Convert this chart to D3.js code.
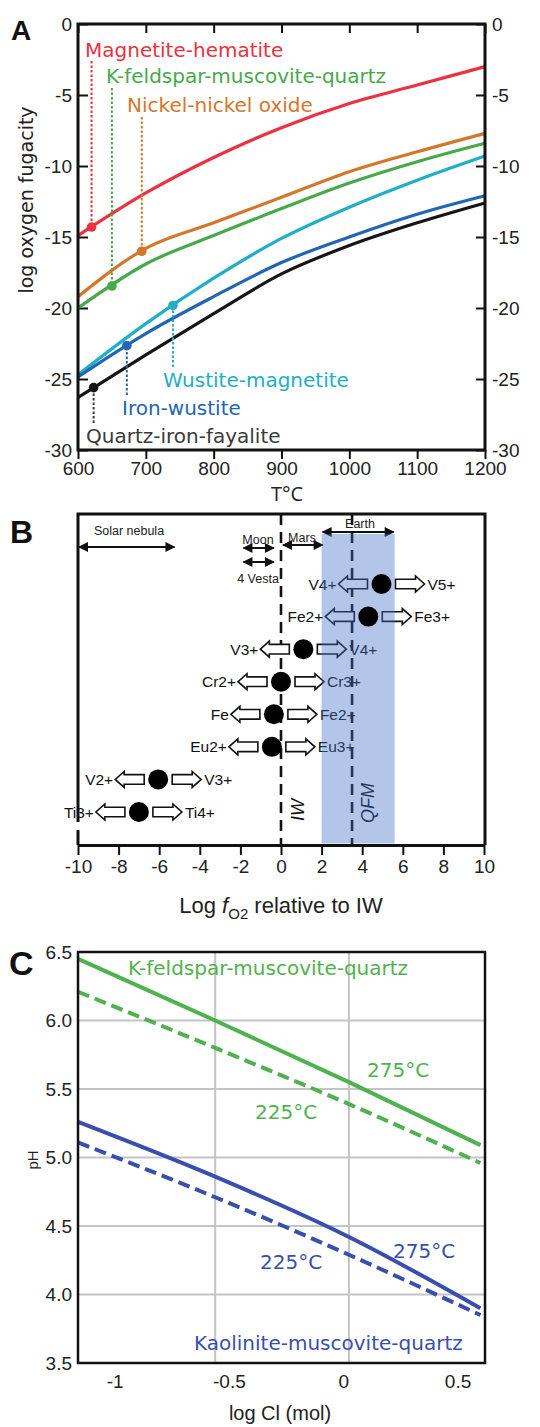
<!DOCTYPE html>
<html>
<head>
<meta charset="utf-8">
<script src="https://cdn.jsdelivr.net/npm/d3@7"></script>
<style>
  body { margin: 0; background: #fff; }
  svg text { font-family: "Liberation Sans", Arial, sans-serif; }
</style>
</head>
<body>
<div id="chart"></div>
<script>
// ---------- panel A : buffer curves, log fO2 vs T
var tempsA = [600, 700, 800, 900, 1000, 1100, 1200];
var mhVals  = [-14.9, -11.9, -9.4, -7.3, -5.6, -4.3, -3.0];
var kmqVals = [-20.0, -16.9, -14.9, -13.0, -11.2, -9.7, -8.4];
var nnoVals = [-19.2, -15.8, -14.0, -12.2, -10.4, -9.0, -7.7];
var wmVals  = [-24.7, -21.1, -17.9, -15.1, -12.9, -11.0, -9.3];
var iwVals  = [-24.85, -21.8, -19.2, -16.8, -15.0, -13.4, -12.1];
var qifVals = [-26.3, -23.3, -20.4, -17.6, -15.6, -14.0, -12.6];
var bufferNames = ["Magnetite-hematite", "K-feldspar-muscovite-quartz", "Nickel-nickel oxide",
                   "Wustite-magnetite", "Iron-wustite", "Quartz-iron-fayalite"];
var bufferMarkT = [620, 650, 694, 740, 672, 623];
var tickTA = [600, 700, 800, 900, 1000, 1100, 1200];
var tickFA = [0, -5, -10, -15, -20, -25, -30];

// ---------- panel B : redox pairs relative to IW
var tickB = [-10, -8, -6, -4, -2, 0, 2, 4, 6, 8, 10];
var pairReduced  = ["V4+", "Fe2+", "V3+", "Cr2+", "Fe", "Eu2+", "V2+", "Ti3+"];
var pairOxidized = ["V5+", "Fe3+", "V4+", "Cr3+", "Fe2+", "Eu3+", "V3+", "Ti4+"];
var pairDIW      = [4.95, 4.3, 1.1, 0, -0.35, -0.45, -6.05, -7.0];
var bodyNames = ["Solar nebula", "Moon", "4 Vesta", "Mars", "Earth"];
var bodyFrom  = [-10, -1.9, -1.9, 0.05, 2.0];
var bodyTo    = [-5.2, -0.3, -0.3, 2.1, 5.6];
var iwRef = 0, qfmRef = 3.5;
var earthRange = [2.0, 5.6];

// ---------- panel C : pH vs log Cl
var logCl  = [-1.16, -0.56, 0.025, 0.6];
var kfs275 = [6.45, 6.00, 5.55, 5.09];
var kfs225 = [6.21, 5.80, 5.39, 4.96];
var kao275 = [5.26, 4.86, 4.42, 3.90];
var kao225 = [5.11, 4.71, 4.29, 3.85];
var tickClC = [-1, -0.5, 0, 0.5];
var gridClC = [-0.56, 0.025];
var tickPhC = [3.5, 4.0, 4.5, 5.0, 5.5, 6.0, 6.5];

var svg = d3.select("#chart").append("svg")
    .attr("width", 540)
    .attr("height", 1427);

function panelLetter(txt, x, y, size) {
  svg.append("text").attr("x", x).attr("y", y).text(txt)
    .style("font-weight", "bold").style("font-size", size + "px").attr("fill", "#111");
}
var plain = function (d) { return String(d); };  // keep ascii hyphen, no thousands comma

// ================= PANEL A =================
(function () {
  var left = 78, right = 485, top = 24, bottom = 450;
  var x = d3.scaleLinear().domain([600, 1200]).range([left, right]);
  var y = d3.scaleLinear().domain([-30, 0]).range([bottom, top]);
  var g = svg.append("g");

  function styleAxis(sel) {
    sel.select(".domain").remove();
    sel.selectAll(".tick line").attr("stroke", "#111").attr("stroke-width", 2);
    sel.selectAll(".tick text").style("font-size", "19px").attr("fill", "#222");
  }
  g.append("g").attr("transform", "translate(" + left + ",0)")
    .call(d3.axisLeft(y).tickValues(tickFA).tickFormat(plain).tickSize(-10).tickPadding(6)).call(styleAxis);
  g.append("g").attr("transform", "translate(" + right + ",0)")
    .call(d3.axisRight(y).tickValues(tickFA).tickFormat(plain).tickSize(-9).tickPadding(7)).call(styleAxis);
  g.append("g").attr("transform", "translate(0," + top + ")")
    .call(d3.axisTop(x).tickValues(tickTA).tickSize(-9).tickFormat("")).call(styleAxis);
  // bottom ticks point outward
  g.append("g").attr("transform", "translate(0," + bottom + ")")
    .call(d3.axisBottom(x).tickValues(tickTA).tickFormat(plain).tickSize(9).tickPadding(3)).call(styleAxis);

  var series = [mhVals, kmqVals, nnoVals, wmVals, iwVals, qifVals];
  var colors = ["#ec3140", "#48a94b", "#d5772b", "#21afc7", "#2266b3", "#161616"];
  var labelColors = ["#ec3140", "#48a94b", "#d5772b", "#21afc7", "#2266b3", "#3a3a3a"];
  // label layout: x, baseline, leader end (px)
  var labelX    = [85, 106, 127, 163, 122, 86];
  var labelY    = [57, 83, 112, 387, 415, 443];
  var leaderEnd = [61, 88, 117, 367, 395, 423];

  var line = d3.line().x(function (d, i) { return x(tempsA[i]); }).y(function (d) { return y(d); })
    .curve(d3.curveMonotoneX);

  function valueAt(vals, t) {
    var i = Math.min(d3.bisectRight(tempsA, t), tempsA.length - 1);
    var t0 = tempsA[i - 1], t1 = tempsA[i];
    return vals[i - 1] + (vals[i] - vals[i - 1]) * (t - t0) / (t1 - t0);
  }

  series.forEach(function (vals, k) {
    g.append("path").datum(vals).attr("d", line)
      .attr("fill", "none").attr("stroke", colors[k]).attr("stroke-width", 3.2)
      .attr("stroke-linejoin", "round");
  });

  series.forEach(function (vals, k) {
    var t = bufferMarkT[k];
    var py = y(valueAt(vals, t));
    g.append("line")
      .attr("x1", x(t)).attr("x2", x(t))
      .attr("y1", leaderEnd[k]).attr("y2", py)
      .attr("stroke", labelColors[k]).attr("stroke-width", 2)
      .attr("stroke-dasharray", "2.5,2");
    g.append("circle").attr("cx", x(t)).attr("cy", py).attr("r", 4.8).attr("fill", colors[k]);
    g.append("text").attr("x", labelX[k]).attr("y", labelY[k]).text(bufferNames[k])
      .style("font-family", '"DejaVu Sans", sans-serif').style("font-size", "20px")
      .attr("fill", labelColors[k]);
  });

  g.append("rect").attr("x", left).attr("y", top).attr("width", right - left).attr("height", bottom - top)
    .attr("fill", "none").attr("stroke", "#111").attr("stroke-width", 3);

  g.append("text").attr("transform", "translate(26," + 200 + ") rotate(-90)")
    .attr("text-anchor", "middle").attr("dy", "0.35em")
    .style("font-family", '"DejaVu Sans", sans-serif').style("font-size", "19px").attr("fill", "#222")
    .text("log oxygen fugacity");
  g.append("text").attr("x", 287).attr("y", 501).attr("text-anchor", "middle")
    .style("font-family", '"Open Sans", sans-serif').style("font-size", "20px").attr("fill", "#222")
    .text("T°C");
  panelLetter("A", 11, 40, 28);
})();

// ================= PANEL B =================
(function () {
  var left = 78, right = 485, top = 514, bottom = 845;
  var x = d3.scaleLinear().domain([-10, 10]).range([78, 484]);
  var rowY = d3.scalePoint().domain(d3.range(pairDIW.length)).range([584, 812]);
  var g = svg.append("g");

  var defs = svg.append("defs");
  defs.append("marker").attr("id", "headB")
    .attr("viewBox", "0 -5 10 10").attr("refX", 9).attr("refY", 0)
    .attr("markerUnits", "userSpaceOnUse").attr("markerWidth", 11).attr("markerHeight", 10)
    .attr("orient", "auto-start-reverse")
    .append("path").attr("d", "M0,-5L10,0L0,5Z").attr("fill", "#111");

  // frame (left edge has a small break)
  g.append("path").attr("d", "M" + left + "," + 822 + "V" + top + "H" + right + "V" + bottom)
    .attr("fill", "none").attr("stroke", "#111").attr("stroke-width", 3);
  g.append("path").attr("d", "M" + left + ",830V" + bottom)
    .attr("fill", "none").attr("stroke", "#111").attr("stroke-width", 3);

  // reference buffers
  [iwRef, qfmRef].forEach(function (v) {
    g.append("line").attr("x1", x(v)).attr("x2", x(v)).attr("y1", top).attr("y2", bottom)
      .attr("stroke", "#111").attr("stroke-width", 2.6).attr("stroke-dasharray", "11,7");
  });

  // planetary bodies
  var bodyArrowY = [547, 548, 562, 545, 532];
  var bodyLabelX = [129, 258, 258, 302, 360];
  var bodyLabelY = [535, 544, 583, 542, 528];
  bodyNames.forEach(function (name, i) {
    g.append("line").attr("x1", x(bodyFrom[i]) + 1).attr("x2", x(bodyTo[i]) - 1)
      .attr("y1", bodyArrowY[i]).attr("y2", bodyArrowY[i])
      .attr("stroke", "#111").attr("stroke-width", 2)
      .attr("marker-start", "url(#headB)").attr("marker-end", "url(#headB)");
    g.append("text").attr("x", bodyLabelX[i]).attr("y", bodyLabelY[i]).attr("text-anchor", "middle")
      .style("font-size", "12.5px").attr("fill", "#222").text(name);
  });

  // block arrows
  function blockArrow(x0, x1, yc) {
    var dir = x1 > x0 ? 1 : -1, hl = 9 * dir, h = 4.8, H = 8;
    return "M" + x0 + "," + (yc - h) + "L" + (x1 - hl) + "," + (yc - h) + "L" + (x1 - hl) + "," + (yc - H) +
      "L" + x1 + "," + yc + "L" + (x1 - hl) + "," + (yc + H) + "L" + (x1 - hl) + "," + (yc + h) +
      "L" + x0 + "," + (yc + h) + "Z";
  }
  var r = 10, gap = 4, len = 29;
  var dots = [];
  pairDIW.forEach(function (v, i) {
    var cx = x(v), cy = rowY(i);
    var lStart = cx - r - gap, lTip = lStart - len;
    var rStart = cx + r + gap, rTip = rStart + len;
    g.append("path").attr("d", blockArrow(lStart, lTip, cy))
      .attr("fill", "#fff").attr("stroke", "#111").attr("stroke-width", 1.6);
    g.append("path").attr("d", blockArrow(rStart, rTip, cy))
      .attr("fill", "#fff").attr("stroke", "#111").attr("stroke-width", 1.6);
    g.append("text").attr("x", lTip - 2).attr("y", cy).attr("dy", "0.36em").attr("text-anchor", "end")
      .style("font-size", "15.5px").attr("fill", "#111").text(pairReduced[i]);
    g.append("text").attr("x", rTip + 3).attr("y", cy).attr("dy", "0.36em")
      .style("font-size", "15.5px").attr("fill", "#111").text(pairOxidized[i]);
    dots.push([cx, cy]);
  });

  g.append("text").attr("transform", "translate(298,810) rotate(-90)")
    .attr("text-anchor", "middle").attr("dy", "0.35em")
    .style("font-size", "18px").style("font-style", "italic").attr("fill", "#111").text("IW");
  g.append("text").attr("transform", "translate(368,803) rotate(-90)")
    .attr("text-anchor", "middle").attr("dy", "0.35em")
    .style("font-size", "18px").style("font-style", "italic").attr("fill", "#111").text("QFM");

  // Earth's mantle band laid over arrows and text (darkens what is under it)
  g.append("rect").attr("x", x(earthRange[0])).attr("y", 534)
    .attr("width", x(earthRange[1]) - x(earthRange[0])).attr("height", bottom - 1.5 - 534)
    .attr("fill", "rgb(64,110,200)").attr("opacity", 0.4);

  // the dots stay pure black on top
  g.selectAll(".dot").data(dots).enter().append("circle")
    .attr("cx", function (d) { return d[0]; }).attr("cy", function (d) { return d[1]; })
    .attr("r", r).attr("fill", "#000");

  // bottom axis
  var ax = g.append("g").attr("transform", "translate(0," + bottom + ")")
    .call(d3.axisBottom(x).tickValues(tickB).tickFormat(plain).tickSize(10).tickSizeOuter(0).tickPadding(5));
  ax.select(".domain").attr("stroke", "#111").attr("stroke-width", 3);
  ax.selectAll(".tick line").attr("stroke", "#111").attr("stroke-width", 2);
  ax.selectAll(".tick text").style("font-size", "19px").attr("fill", "#222");

  var title = g.append("text").attr("x", 281).attr("y", 913).attr("text-anchor", "middle")
    .style("font-size", "22px").attr("fill", "#222");
  title.append("tspan").text("Log ");
  title.append("tspan").style("font-style", "italic").text("f");
  title.append("tspan").attr("dy", 6).style("font-size", "15px").text("O2");
  title.append("tspan").attr("dy", -6).text(" relative to IW");

  panelLetter("B", 10, 543, 32);
})();

// ================= PANEL C =================
(function () {
  var left = 78, right = 485, top = 952, bottom = 1363;
  var x = d3.scaleLinear().domain([-1.16, 0.62]).range([left, right]);
  var y = d3.scaleLinear().domain([3.5, 6.5]).range([bottom, top]);
  var g = svg.append("g");
  var green = "#4fb24f", blue = "#3a4eae";

  g.selectAll(".hgrid").data(tickPhC.slice(1, -1)).enter().append("line")
    .attr("x1", left).attr("x2", right).attr("y1", function (d) { return y(d); }).attr("y2", function (d) { return y(d); })
    .attr("stroke", "#c4c4c4").attr("stroke-width", 2);
  g.selectAll(".vgrid").data(gridClC).enter().append("line")
    .attr("y1", top).attr("y2", bottom).attr("x1", function (d) { return x(d); }).attr("x2", function (d) { return x(d); })
    .attr("stroke", "#c4c4c4").attr("stroke-width", 2);

  var line = d3.line().x(function (d, i) { return x(logCl[i]); }).y(function (d) { return y(d); })
    .curve(d3.curveMonotoneX);
  var curves = [[kfs275, green, null], [kfs225, green, "12,6"], [kao275, blue, null], [kao225, blue, "12,6"]];
  curves.forEach(function (c) {
    g.append("path").datum(c[0]).attr("d", line)
      .attr("fill", "none").attr("stroke", c[1]).attr("stroke-width", 4)
      .attr("stroke-dasharray", c[2]);
  });

  g.append("rect").attr("x", left).attr("y", top).attr("width", right - left).attr("height", bottom - top)
    .attr("fill", "none").attr("stroke", "#111").attr("stroke-width", 2.5);

  var ya = g.append("g").attr("transform", "translate(" + left + ",0)")
    .call(d3.axisLeft(y).tickValues(tickPhC).tickFormat(d3.format(".1f")).tickSize(0).tickPadding(6));
  var xa = g.append("g").attr("transform", "translate(0," + bottom + ")")
    .call(d3.axisBottom(x).tickValues(tickClC).tickFormat(plain).tickSize(0).tickPadding(12));
  [ya, xa].forEach(function (a) {
    a.select(".domain").remove();
    a.selectAll(".tick text").style("font-size", "19px").attr("fill", "#222");
  });

  var lab = '"DejaVu Sans", sans-serif';
  [["K-feldspar-muscovite-quartz", 128, 975, green],
   ["275°C", 367, 1077, green],
   ["225°C", 255, 1119, green],
   ["275°C", 393, 1258, blue],
   ["225°C", 260, 1269, blue],
   ["Kaolinite-muscovite-quartz", 194, 1350, blue]].forEach(function (t) {
    g.append("text").attr("x", t[1]).attr("y", t[2]).text(t[0])
      .style("font-family", lab).style("font-size", "20px").attr("fill", t[3]);
  });

  g.append("text").attr("transform", "translate(33,1160) rotate(-90)").attr("text-anchor", "middle")
    .attr("dy", "0.35em").style("font-size", "15px").attr("fill", "#222").text("pH");
  g.append("text").attr("x", 280).attr("y", 1420).attr("text-anchor", "middle")
    .style("font-size", "20px").attr("fill", "#222").text("log Cl (mol)");

  panelLetter("C", 9, 975, 34);
})();
</script>
</body>
</html>
